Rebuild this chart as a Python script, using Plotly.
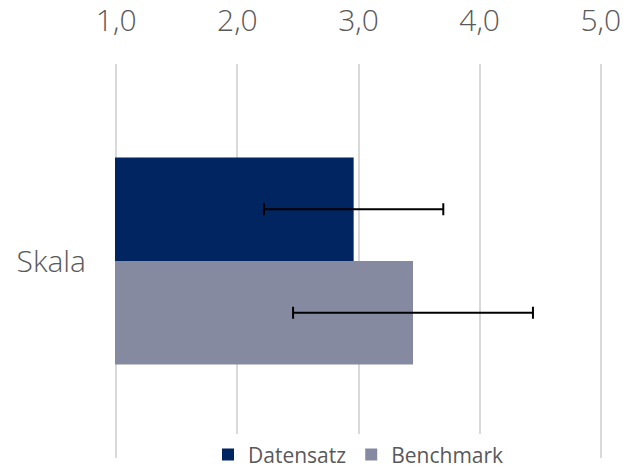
import plotly.graph_objects as go

categories = ["Skala"]
series_names = ["Datensatz", "Benchmark"]
datensatz = [2.96]
benchmark = [3.45]
datensatz_err = [0.74]
benchmark_err = [0.99]
x_ticks = [1, 2, 3, 4, 5]
x_tick_labels = ["1,0", "2,0", "3,0", "4,0", "5,0"]
colors = ["#002560", "#868AA0"]

font_family = "Open Sans, Segoe UI, sans-serif"
text_color = "#595959"

fig = go.Figure()
for name, vals, errs, col in zip(series_names, [datensatz, benchmark],
                                 [datensatz_err, benchmark_err], colors):
    fig.add_trace(go.Bar(
        y=categories, x=vals, name=name, orientation="h",
        marker=dict(color=col, line=dict(width=0)),
        error_x=dict(type="data", array=errs, symmetric=True,
                     color="black", thickness=2, width=6),
    ))

fig.update_layout(
    width=626, height=468,
    margin=dict(l=115, r=24, t=64, b=10, autoexpand=False),
    paper_bgcolor="white", plot_bgcolor="white",
    barmode="group", bargap=0.475, bargroupgap=0,
    font=dict(family=font_family, color=text_color),
    showlegend=True,
    legend=dict(orientation="h", x=0.5, xanchor="center", y=0.008,
                yanchor="middle", bgcolor="white",
                font=dict(size=21, color=text_color, family=font_family),
                itemwidth=30, traceorder="normal"),
    xaxis=dict(range=[0.99, 5.01], side="top", tickvals=x_ticks,
               ticktext=x_tick_labels, showgrid=True, gridcolor="#D9D9D9",
               gridwidth=1.5, zeroline=False, showline=False, ticks="",
               ticklabelstandoff=26, automargin=False,
               tickfont=dict(size=30, color=text_color, family=font_family, weight=300)),
    yaxis=dict(autorange="reversed", showgrid=False, zeroline=False,
               showline=False, ticks="", ticklabelstandoff=28, automargin=False,
               tickfont=dict(size=30, color=text_color, family=font_family, weight=300)),
)

fig.write_html("out.html", config={"displayModeBar": False},
               post_script="document.body.style.margin='0';")
